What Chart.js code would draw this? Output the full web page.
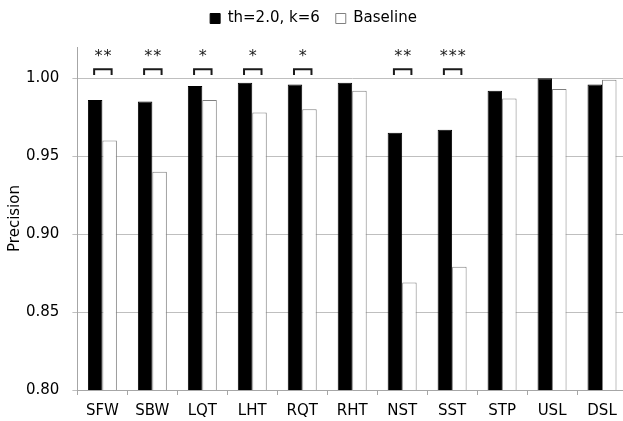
<!DOCTYPE html>
<html>
<head>
<meta charset="utf-8">
<script src="https://cdn.jsdelivr.net/npm/chart.js@4/dist/chart.umd.min.js"></script>
<style>
  html, body { margin: 0; padding: 0; background: #fff; overflow: hidden; }
  #wrap { width: 630px; height: 421px; }
</style>
</head>
<body>
<div id="wrap"><canvas id="chart"></canvas></div>
<script>
// categories + series
const categories = ['SFW', 'SBW', 'LQT', 'LHT', 'RQT', 'RHT', 'NST', 'SST', 'STP', 'USL', 'DSL'];
const proposed = [0.986, 0.985, 0.995, 0.997, 0.996, 0.997, 0.965, 0.967, 0.992, 1.000, 0.996];
const baseline = [0.960, 0.940, 0.986, 0.978, 0.980, 0.992, 0.869, 0.879, 0.987, 0.993, 0.999];
// significance marks above each pair ('' = none)
const significance = ['**', '**', '*', '*', '*', '', '**', '***', '', '', ''];
const yTicks = [0.80, 0.85, 0.90, 0.95, 1.00];

const FONT = '"DejaVu Sans", Verdana, sans-serif';

// brackets + asterisks over the significant pairs
const sigPlugin = {
  id: 'sig',
  afterDatasetsDraw(chart) {
    const y = chart.scales.y;
    const m0 = chart.getDatasetMeta(0), m1 = chart.getDatasetMeta(1);
    const ctx = chart.ctx;
    const yLine = y.getPixelForValue(1.0058);
    const yFoot = y.getPixelForValue(1.0020);
    const yStar = y.getPixelForValue(1.0150);
    ctx.save();
    significance.forEach((s, i) => {
      if (!s) return;
      const x0 = m0.data[i].x - 1, x1 = m1.data[i].x + 2;
      ctx.strokeStyle = '#1a1a1a';
      ctx.lineWidth = 2;
      ctx.beginPath();
      ctx.moveTo(x0, yFoot);
      ctx.lineTo(x0, yLine);
      ctx.lineTo(x1, yLine);
      ctx.lineTo(x1, yFoot);
      ctx.stroke();
      ctx.fillStyle = '#1a1a1a';
      ctx.font = '16px ' + FONT;
      ctx.textAlign = 'center';
      ctx.textBaseline = 'middle';
      const pitch = 9, cx = (x0 + x1) / 2;
      for (let k = 0; k < s.length; k++) {
        ctx.fillText('*', cx + (k - (s.length - 1) / 2) * pitch, yStar + 2);
      }
    });
    ctx.restore();
  }
};

// extra room under the legend
const legendGap = {
  id: 'legendGap',
  beforeInit(chart) {
    const fit = chart.legend.fit;
    chart.legend.fit = function () { fit.call(this); this.height += 11; };
  }
};

new Chart(document.getElementById('chart'), {
  type: 'bar',
  data: {
    labels: categories,
    datasets: [
      {
        label: 'th=2.0, k=6',
        data: proposed,
        backgroundColor: '#000',
        borderColor: '#000',
        borderWidth: 1,
        categoryPercentage: 0.58,
        barPercentage: 1.0
      },
      {
        label: 'Baseline',
        data: baseline,
        backgroundColor: '#fff',
        borderColor: '#808080',
        borderWidth: 1,
        categoryPercentage: 0.58,
        barPercentage: 1.0
      }
    ]
  },
  plugins: [sigPlugin, legendGap],
  options: {
    responsive: true,
    maintainAspectRatio: false,
    animation: false,
    layout: { padding: { top: -5, right: 3, left: 0, bottom: -6 } },
    plugins: {
      legend: {
        position: 'top',
        labels: {
          boxWidth: 10,
          boxHeight: 10,
          padding: 16,
          color: '#000',
          font: { family: FONT, size: 15 }
        }
      },
      tooltip: { enabled: false }
    },
    scales: {
      x: {
        grid: { display: true, drawOnChartArea: false, offset: true, tickLength: 5, color: '#a6a6a6' },
        border: { color: '#a6a6a6' },
        ticks: { color: '#000', padding: 7, font: { family: FONT, size: 15 } }
      },
      y: {
        min: 0.80,
        max: 1.02,
        afterBuildTicks: axis => { axis.ticks = yTicks.map(v => ({ value: v })); },
        grid: { color: '#bfbfbf', tickLength: 5 },
        border: { color: '#a6a6a6' },
        ticks: {
          color: '#000',
          padding: 13,
          font: { family: FONT, size: 15 },
          callback: v => Number(v).toFixed(2)
        },
        title: {
          display: true,
          text: 'Precision',
          color: '#000',
          padding: { top: 6, bottom: -11 },
          font: { family: FONT, size: 15 }
        }
      }
    }
  }
});
</script>
</body>
</html>
